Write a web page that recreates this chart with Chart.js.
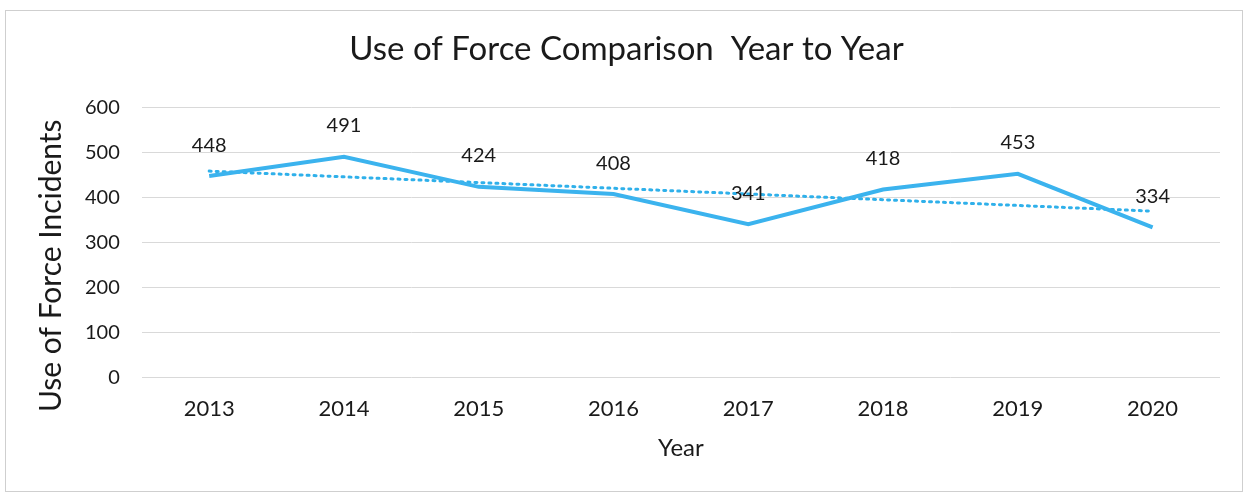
<!DOCTYPE html>
<html>
<head>
<meta charset="utf-8">
<script src="https://cdn.jsdelivr.net/npm/chart.js@4"></script>
<style>
  html, body { margin: 0; padding: 0; background: #fff; }
  #wrap { position: relative; width: 1249px; height: 496px; }
</style>
</head>
<body>
<div id="wrap"><canvas id="c" width="1249" height="496"></canvas></div>
<script>
const categories = ['2013', '2014', '2015', '2016', '2017', '2018', '2019', '2020'];
const incidents = [448, 491, 424, 408, 341, 418, 453, 334];
// Linear trendline endpoints (ends only; the library joins them)
const trend = [459, null, null, null, null, null, null, 370];
const yTicks = [0, 100, 200, 300, 400, 500, 600];

const FONT = 'Lato, "Open Sans", sans-serif';
const NBSP = '\u00A0';

const frame = {
  id: 'frame',
  beforeDraw(chart) {
    const ctx = chart.ctx;
    ctx.save();
    ctx.fillStyle = '#ffffff';
    ctx.fillRect(0, 0, chart.width, chart.height);
    ctx.strokeStyle = '#cfcfcf';
    ctx.lineWidth = 1;
    ctx.strokeRect(5.5, 10.5, 1237, 481);
    ctx.restore();
  }
};

const dataLabels = {
  id: 'dataLabels',
  afterDatasetsDraw(chart) {
    const ctx = chart.ctx;
    const meta = chart.getDatasetMeta(0);
    ctx.save();
    ctx.font = '20px ' + FONT;
    ctx.fillStyle = '#1a1a1a';
    ctx.textAlign = 'center';
    ctx.textBaseline = 'middle';
    meta.data.forEach((pt, i) => {
      ctx.fillText(String(incidents[i]), pt.x, pt.y - 31);
    });
    ctx.restore();
  }
};

new Chart(document.getElementById('c'), {
  type: 'line',
  data: {
    labels: categories,
    datasets: [
      {
        label: 'Use of Force Incidents',
        data: incidents,
        borderColor: '#3bb3ee',
        borderWidth: 4,
        pointRadius: 0,
        tension: 0,
        fill: false
      },
      {
        label: 'Linear trend',
        data: trend,
        spanGaps: true,
        borderColor: '#2fb0ea',
        borderWidth: 3,
        borderDash: [2, 5],
        borderCapStyle: 'round',
        pointRadius: 0,
        tension: 0,
        fill: false
      }
    ]
  },
  options: {
    responsive: false,
    animation: false,
    devicePixelRatio: 1,
    layout: { padding: { top: 30, left: 33, right: 29, bottom: 33 } },
    plugins: {
      legend: { display: false },
      tooltip: { enabled: false },
      title: {
        display: true,
        text: 'Use of Force Comparison  Year to Year',
        color: '#1a1a1a',
        font: { family: FONT, size: 33, weight: 'normal' },
        padding: { top: 0, bottom: 38 }
      }
    },
    scales: {
      x: {
        offset: true,
        grid: { display: false, drawTicks: false },
        border: { display: false },
        ticks: {
          color: '#1a1a1a',
          font: { family: FONT, size: 22 },
          padding: 18
        },
        title: {
          display: true,
          text: 'Year',
          color: '#1a1a1a',
          font: { family: FONT, size: 24 },
          padding: { top: -6, bottom: 0 }
        }
      },
      y: {
        min: 0,
        max: 600,
        afterBuildTicks(scale) { scale.ticks = yTicks.map(v => ({ value: v })); },
        grid: { color: '#d9d9d9', lineWidth: 1, drawTicks: false },
        border: { display: false },
        ticks: {
          color: '#1a1a1a',
          font: { family: FONT, size: 20 },
          padding: 22
        },
        title: {
          display: true,
          text: 'Use of Force Incidents' + NBSP.repeat(6),
          color: '#1a1a1a',
          font: { family: FONT, size: 30 },
          padding: { top: 0, bottom: -6 }
        }
      }
    }
  },
  plugins: [frame, dataLabels]
});
</script>
</body>
</html>
